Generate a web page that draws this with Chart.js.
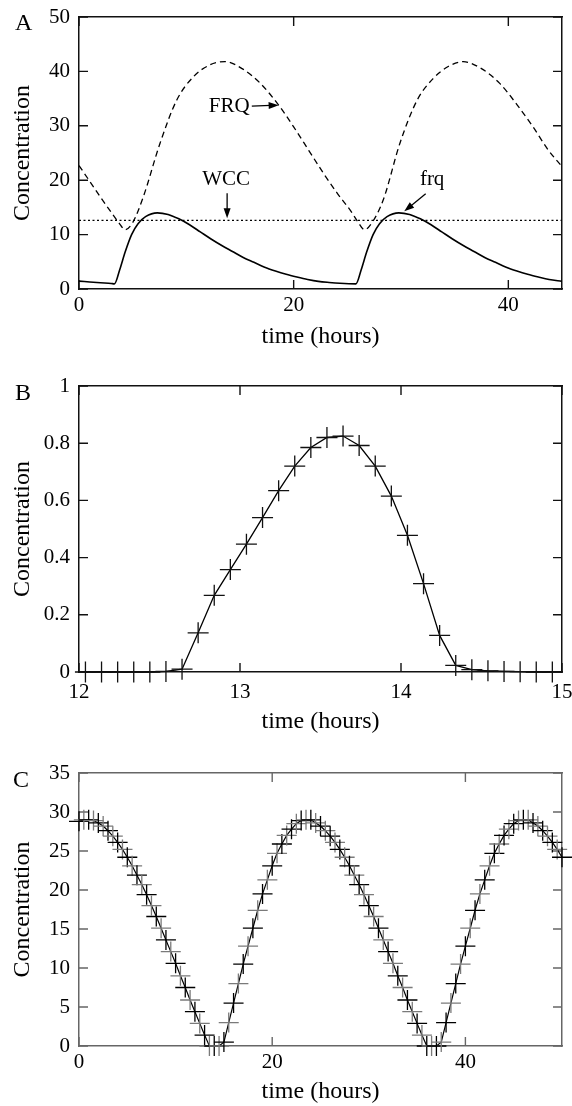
<!DOCTYPE html>
<html>
<head>
<meta charset="utf-8">
<script src="https://cdn.jsdelivr.net/npm/chart.js@4.4.1/dist/chart.umd.min.js"></script>
<style>
  html, body { margin: 0; padding: 0; background: #fff; }
  #wrap { position: relative; width: 572px; height: 1106px; overflow: hidden; }
  .panel { position: absolute; left: 0; width: 572px; }
  .letter { position: absolute; font-family: 'Liberation Serif', 'Times New Roman', serif; font-size: 24px; line-height: 24px; color: #000; }
</style>
</head>
<body>
<div id="wrap">
  <div class="panel" style="top:0px;height:350px"><canvas id="chartA" width="572" height="350"></canvas></div>
  <div class="panel" style="top:350px;height:390px"><canvas id="chartB" width="572" height="390"></canvas></div>
  <div class="panel" style="top:740px;height:366px"><canvas id="chartC" width="572" height="366"></canvas></div>
  <div class="letter" style="left:15px;top:10px">A</div>
  <div class="letter" style="left:15px;top:380px">B</div>
  <div class="letter" style="left:13px;top:767px">C</div>
</div>
<script>
// panel A: frq mRNA (solid), FRQ protein (dashed), WCC (dotted)
var frqTime  = [0, 1, 2, 3, 3.3, 3.8, 4.3, 4.9, 5.5, 6.2, 7.3, 8.3, 9.3, 10.3, 11.3, 12.3, 13.3, 14.3, 15.3, 16.3,
                17.3, 18.3, 19.3, 20.3, 21.3, 22.3, 23.3, 24.3, 25.8, 26.3, 26.8, 27.4, 28.0, 28.7, 29.8, 30.8,
                31.8, 32.8, 33.8, 34.8, 35.8, 36.8, 37.8, 38.8, 39.8, 40.8, 41.8, 42.8, 43.8, 45];
var frqValue = [1.45, 1.3, 1.15, 1.02, 0.95, 3.6, 6.8, 10.0, 12.0, 13.3, 14.0, 13.7, 12.9, 11.8, 10.5, 9.2, 8.0, 6.9, 5.8, 4.9,
                4.0, 3.3, 2.7, 2.2, 1.75, 1.4, 1.2, 1.05, 0.95, 3.6, 6.8, 10.0, 12.0, 13.3, 14.0, 13.7,
                12.9, 11.8, 10.5, 9.2, 8.0, 6.9, 5.8, 4.9, 4.0, 3.3, 2.7, 2.2, 1.75, 1.4];

var protTime  = [0, 1, 2, 3, 3.7, 4.3, 5.0, 6.0, 7.55, 9.1, 10.65, 12.2, 13.6, 15.2, 16.9, 18.6, 20.0, 21.4, 22.8, 24.1,
                 25.3, 26.0, 26.6, 27.3, 28.35, 29.9, 31.5, 33.0, 34.4, 35.8, 37.5, 39.2, 40.8, 42.3, 43.7, 45];
var protValue = [22.7, 19.8, 16.9, 14.1, 12.2, 10.9, 12.2, 17.0, 26.8, 34.7, 39.0, 41.2, 41.8, 40.5, 37.8, 33.8, 29.8, 25.5, 21.2, 17.5,
                 14.4, 12.3, 10.9, 12.2, 16.4, 26.8, 34.7, 38.7, 40.9, 41.8, 40.5, 37.8, 33.9, 29.8, 25.6, 22.5];

var wccTime  = [0, 45];
var wccValue = [12.6, 12.6];

// panel B: close-up of one peak, sampled every 0.1 h
var bTime  = [12.04, 12.14, 12.24, 12.34, 12.44, 12.54, 12.64, 12.74, 12.84, 12.94, 13.04, 13.14, 13.24, 13.34, 13.44,
              13.54, 13.64, 13.74, 13.84, 13.94, 14.04, 14.14, 14.24, 14.34, 14.44, 14.54, 14.64, 14.74, 14.84, 14.94];
var bValue = [0, 0, 0, 0, 0, 0.002, 0.01, 0.137, 0.268, 0.358, 0.447, 0.540, 0.634, 0.720, 0.785,
              0.820, 0.825, 0.792, 0.720, 0.615, 0.478, 0.309, 0.128, 0.023, 0.008, 0.004, 0.002, 0.001, 0, 0];

// panel C: sampled every 0.5 h
var cTime  = [0, 0.5, 1, 1.5, 2, 2.5, 3, 3.5, 4, 4.5, 5, 5.5, 6, 6.5, 7, 7.5, 8, 8.5, 9, 9.5,
              10, 10.5, 11, 11.5, 12, 12.5, 13, 13.5, 14, 14.5, 15, 15.5, 16, 16.5, 17, 17.5, 18, 18.5, 19, 19.5,
              20, 20.5, 21, 21.5, 22, 22.5, 23, 23.5, 24, 24.5, 25, 25.5, 26, 26.5, 27, 27.5, 28, 28.5, 29, 29.5,
              30, 30.5, 31, 31.5, 32, 32.5, 33, 33.5, 34, 34.5, 35, 35.5, 36, 36.5, 37, 37.5, 38, 38.5, 39, 39.5,
              40, 40.5, 41, 41.5, 42, 42.5, 43, 43.5, 44, 44.5, 45, 45.5, 46, 46.5, 47, 47.5, 48, 48.5, 49, 49.5, 50];
var cValue = [28.8, 29.0, 29.0, 28.9, 28.6, 28.2, 27.6, 26.9, 26.1, 25.2, 24.2, 23.1, 21.9, 20.7, 19.4, 18.0, 16.6, 15.1, 13.6, 12.1,
              10.6, 9.0, 7.5, 5.9, 4.4, 2.9, 1.4, 0, 0, 0, 0.5, 3.0, 5.5, 8.0, 10.5, 12.8, 15.1, 17.4, 19.5, 21.3,
              23.1, 24.7, 25.9, 27.0, 27.8, 28.5, 28.9, 29.0, 29.0, 28.6, 28.2, 27.6, 26.9, 26.1, 25.2, 24.2, 23.1, 21.9, 20.7, 19.4,
              18.0, 16.6, 15.1, 13.6, 12.1, 10.6, 9.0, 7.5, 5.9, 4.4, 2.9, 1.4, 0, 0, 0, 0.5, 3.0, 5.5, 8.0, 10.5,
              12.8, 15.1, 17.4, 19.5, 21.3, 23.1, 24.7, 25.9, 27.0, 27.8, 28.5, 28.9, 29.0, 29.0, 28.6, 28.2, 27.6, 26.9, 26.1, 25.2, 24.2];

var serif = "'Liberation Serif', 'Times New Roman', serif";
Chart.defaults.font.family = serif;
Chart.defaults.color = '#000';

function pts(xs, ys) {
  return xs.map(function (x, i) { return { x: x, y: ys[i] }; });
}

// inward tick marks on all four sides, at the scales' own tick values
var inTicks = {
  id: 'inTicks',
  beforeDatasetsDraw: function (chart, args, opts) {
    var a = chart.chartArea, ctx = chart.ctx, L = 9;
    var xs = chart.scales.x, ys = chart.scales.y;
    ctx.save();
    ctx.strokeStyle = opts.color || '#000';
    ctx.lineWidth = 1.4;
    ctx.beginPath();
    xs.ticks.forEach(function (t) {
      var px = xs.getPixelForValue(t.value);
      ctx.moveTo(px, a.bottom); ctx.lineTo(px, a.bottom - L);
      ctx.moveTo(px, a.top); ctx.lineTo(px, a.top + L);
    });
    ys.ticks.forEach(function (t) {
      var py = ys.getPixelForValue(t.value);
      ctx.moveTo(a.left, py); ctx.lineTo(a.left + L, py);
      ctx.moveTo(a.right, py); ctx.lineTo(a.right - L, py);
    });
    ctx.stroke();
    ctx.restore();
  }
};

// fixed axis sizes so every panel gets the same plot frame
function fixSize(prop, val) {
  return function (s) {
    s[prop] = val;
    s.paddingLeft = 0; s.paddingRight = 0; s.paddingTop = 0; s.paddingBottom = 0;
  };
}

function makeScales(g) {
  var grid = { display: false, drawTicks: false };
  var border = { display: true, color: g.frame, width: 1.5 };
  return {
    x: {
      type: 'linear', position: 'bottom', min: g.xmin, max: g.xmax,
      grid: grid, border: border,
      ticks: { stepSize: g.xstep, includeBounds: false, padding: g.xpad, maxRotation: 0, autoSkip: false,
               font: { size: 21, lineHeight: 1 }, color: '#000' },
      title: { display: true, text: 'time (hours)', color: '#000',
               font: { size: 24, lineHeight: 1 }, padding: { top: 0, bottom: g.tpad } },
      afterFit: fixSize('height', g.h - g.bottom)
    },
    x2: {
      type: 'linear', position: 'top', min: g.xmin, max: g.xmax,
      grid: grid, border: border,
      ticks: { display: false },
      afterFit: fixSize('height', 0)
    },
    y: {
      type: 'linear', position: 'left', min: g.ymin, max: g.ymax,
      grid: grid, border: border,
      ticks: { stepSize: g.ystep, includeBounds: false, padding: 9, autoSkip: false,
               font: { size: 21, lineHeight: 1 }, color: '#000', callback: g.yfmt },
      title: { display: true, text: 'Concentration', color: '#000',
               font: { size: 24, lineHeight: 1 }, padding: { top: 10.5, bottom: 0 } },
      afterFit: fixSize('width', 79)
    },
    y2: {
      type: 'linear', position: 'right', min: g.ymin, max: g.ymax,
      grid: grid, border: border,
      ticks: { display: false },
      afterFit: fixSize('width', 0)
    }
  };
}

function baseOptions(g) {
  return {
    responsive: false,
    animation: false,
    devicePixelRatio: 1,
    layout: { autoPadding: false, padding: { left: 0, right: 10, top: g.top, bottom: 0 } },
    plugins: { legend: { display: false }, tooltip: { enabled: false }, inTicks: { color: g.frame } },
    scales: makeScales(g)
  };
}

function arrow(ctx, x1, y1, x2, y2) {
  var a = Math.atan2(y2 - y1, x2 - x1), L = 10, W = 3.5;
  ctx.beginPath();
  ctx.moveTo(x1, y1);
  ctx.lineTo(x2 - L * 0.8 * Math.cos(a), y2 - L * 0.8 * Math.sin(a));
  ctx.lineWidth = 1.3;
  ctx.stroke();
  ctx.beginPath();
  ctx.moveTo(x2, y2);
  ctx.lineTo(x2 - L * Math.cos(a) + W * Math.sin(a), y2 - L * Math.sin(a) - W * Math.cos(a));
  ctx.lineTo(x2 - L * Math.cos(a) - W * Math.sin(a), y2 - L * Math.sin(a) + W * Math.cos(a));
  ctx.closePath();
  ctx.fill();
}

// labels with arrows in panel A, placed in data units
var notesPlugin = {
  id: 'notesA',
  afterDatasetsDraw: function (chart) {
    var xs = chart.scales.x, ys = chart.scales.y, ctx = chart.ctx;
    var labels = [
      { text: 'FRQ', x: 14.0, y: 33.6 },
      { text: 'WCC', x: 13.7, y: 20.2 },
      { text: 'frq', x: 32.9, y: 20.2 }
    ];
    var arrows = [
      { x1: 16.1, y1: 33.6, x2: 18.6, y2: 33.8 },
      { x1: 13.8, y1: 17.6, x2: 13.8, y2: 13.0 },
      { x1: 32.3, y1: 17.5, x2: 30.3, y2: 14.3 }
    ];
    ctx.save();
    ctx.fillStyle = '#000';
    ctx.strokeStyle = '#000';
    ctx.font = '21px ' + serif;
    ctx.textAlign = 'center';
    ctx.textBaseline = 'middle';
    labels.forEach(function (n) {
      ctx.fillText(n.text, xs.getPixelForValue(n.x), ys.getPixelForValue(n.y));
    });
    arrows.forEach(function (a) {
      arrow(ctx, xs.getPixelForValue(a.x1), ys.getPixelForValue(a.y1),
                 xs.getPixelForValue(a.x2), ys.getPixelForValue(a.y2));
    });
    ctx.restore();
  }
};

var chartA = new Chart(document.getElementById('chartA').getContext('2d'), {
  type: 'line',
  data: {
    datasets: [
      { label: 'frq', data: pts(frqTime, frqValue), borderColor: '#000', borderWidth: 1.6,
        pointRadius: 0, cubicInterpolationMode: 'monotone', fill: false },
      { label: 'FRQ', data: pts(protTime, protValue), borderColor: '#000', borderWidth: 1.3,
        borderDash: [6, 4], pointRadius: 0, cubicInterpolationMode: 'monotone', fill: false },
      { label: 'WCC', data: pts(wccTime, wccValue), borderColor: '#000', borderWidth: 1.2,
        borderDash: [2, 2.5], pointRadius: 0, fill: false }
    ]
  },
  options: baseOptions({ h: 350, top: 17, bottom: 289, xmin: 0, xmax: 45, xstep: 20,
                         ymin: 0, ymax: 50, ystep: 10, xpad: 5.5, tpad: 1, frame: '#111' }),
  plugins: [inTicks, notesPlugin]
});

var chartB = new Chart(document.getElementById('chartB').getContext('2d'), {
  type: 'line',
  data: {
    datasets: [
      { label: 'B', data: pts(bTime, bValue), borderColor: '#000', borderWidth: 1.3, tension: 0,
        pointStyle: 'cross', pointRadius: 10.5, pointBorderWidth: 1.3, pointBorderColor: '#111',
        fill: false, clip: false }
    ]
  },
  options: baseOptions({ h: 390, top: 36, bottom: 322, xmin: 12, xmax: 15, xstep: 1,
                         ymin: 0, ymax: 1, ystep: 0.2, xpad: 9.5, tpad: 6, frame: '#111',
                         yfmt: function (v) { return String(Math.round(v * 10) / 10); } }),
  plugins: [inTicks]
});

var chartC = new Chart(document.getElementById('chartC').getContext('2d'), {
  type: 'line',
  data: {
    datasets: [
      { label: 'C', data: pts(cTime, cValue), borderColor: '#000', borderWidth: 1.2, tension: 0,
        pointStyle: 'cross', pointRadius: 10, pointBorderWidth: 1.3,
        pointBorderColor: function (c) { return c.dataIndex % 2 ? '#7a7a7a' : '#000'; },
        fill: false, clip: false }
    ]
  },
  options: baseOptions({ h: 366, top: 33, bottom: 306, xmin: 0, xmax: 50, xstep: 20,
                         ymin: 0, ymax: 35, ystep: 5, xpad: 5.5, tpad: 2, frame: '#666' }),
  plugins: [inTicks]
});
</script>
</body>
</html>
